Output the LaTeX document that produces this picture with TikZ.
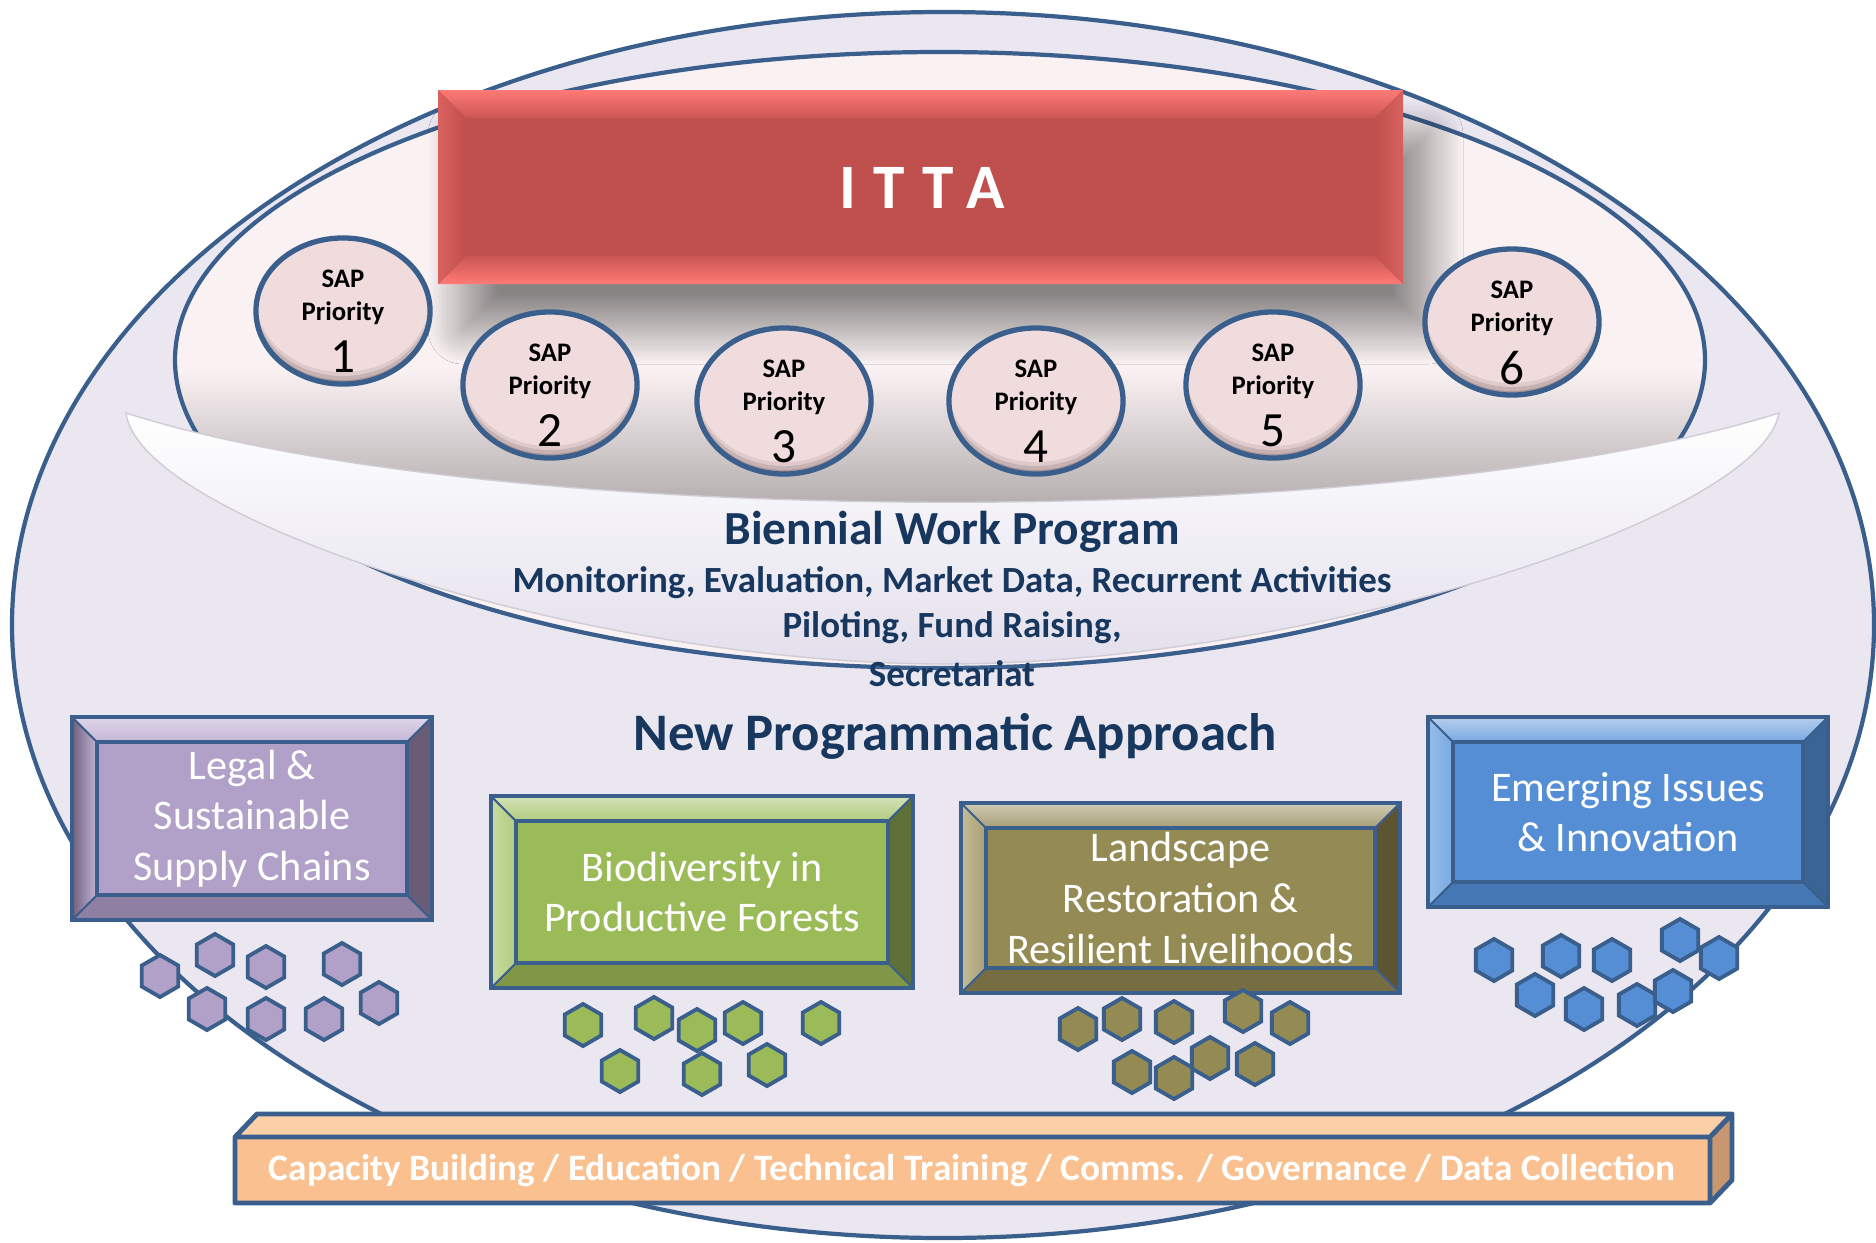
\documentclass[tikz,border=0pt]{standalone}
\usepackage{fontspec}
\setmainfont{Carlito}
\usetikzlibrary{shapes.geometric,calc,shadows.blur}

\definecolor{lineblue}{RGB}{59,95,140}
\definecolor{navy}{RGB}{23,55,94}
\definecolor{outerfill}{RGB}{235,231,241}
\definecolor{innerfill}{RGB}{249,241,242}
\definecolor{innershade}{RGB}{172,166,167}
\definecolor{bowlshade}{RGB}{227,223,236}
\definecolor{ittared}{RGB}{192,80,77}
\definecolor{ittalight}{RGB}{255,122,118}
\definecolor{sapfill}{RGB}{240,220,220}
\definecolor{sapdark}{RGB}{120,100,102}
\definecolor{legalface}{RGB}{177,160,199}
\definecolor{legaltop}{RGB}{196,181,214}
\definecolor{legalbot}{RGB}{143,127,163}
\definecolor{legalleft}{RGB}{110,96,124}
\definecolor{legalright}{RGB}{104,92,118}
\definecolor{bioface}{RGB}{155,187,89}
\definecolor{biotop}{RGB}{177,203,126}
\definecolor{biobot}{RGB}{127,151,71}
\definecolor{bioleft}{RGB}{200,220,160}
\definecolor{bioright}{RGB}{93,113,54}
\definecolor{landface}{RGB}{148,138,84}
\definecolor{landtop}{RGB}{168,159,119}
\definecolor{landbot}{RGB}{119,109,67}
\definecolor{landleft}{RGB}{196,188,150}
\definecolor{landright}{RGB}{92,84,51}
\definecolor{emface}{RGB}{85,142,213}
\definecolor{emtop}{RGB}{122,168,224}
\definecolor{embot}{RGB}{70,119,181}
\definecolor{emleft}{RGB}{150,190,235}
\definecolor{emright}{RGB}{59,100,150}
\definecolor{barfront}{RGB}{250,192,144}
\definecolor{bartop}{RGB}{251,207,168}
\definecolor{barside}{RGB}{200,151,111}

% bevelled programme box: name, x1, y1, x2, y2, colour prefix, text
\newcommand{\progbox}[7]{%
  \pgfmathsetmacro{\innL}{#2+25}\pgfmathsetmacro{\innT}{#3+25}%
  \pgfmathsetmacro{\innR}{#4-25}\pgfmathsetmacro{\innB}{#5-25}%
  \fill[#6face] (#2,#3) rectangle (#4,#5);
  \shade[top color=#6top!55!white,bottom color=#6top] (#2,#3) -- (#4,#3) -- (\innR,\innT) -- (\innL,\innT) -- cycle;
  \shade[left color=#6left,right color=#6top] (#2,#3) -- (\innL,\innT) -- (\innL,\innB) -- (#2,#5) -- cycle;
  \fill[#6right] (#4,#3) -- (\innR,\innT) -- (\innR,\innB) -- (#4,#5) -- cycle;
  \fill[#6bot] (#2,#5) -- (\innL,\innB) -- (\innR,\innB) -- (#4,#5) -- cycle;
  \draw[lineblue,line width=0.6pt] (#2,#3) -- (\innL,\innT) (#4,#3) -- (\innR,\innT)
    (#2,#5) -- (\innL,\innB) (#4,#5) -- (\innR,\innB);
  \draw[boxline] (\innL,\innT) rectangle (\innR,\innB);
  \draw[boxline] (#2,#3) rectangle (#4,#5);
  \node[boxtext] (#1) at ({(#2+#4)/2},{(#3+#5)/2}) {#7};
}

\begin{document}
\begin{tikzpicture}[x=0.01cm,y=-0.01cm]
  \tikzstyle{ring}=[draw=lineblue,line width=1.2pt]
  \tikzstyle{boxline}=[draw=lineblue,line width=1.4pt]
  \tikzstyle{boxtext}=[align=center,text=white,font=\fontsize{12}{14.4}\selectfont]
  \tikzstyle{sap}=[ellipse,draw=lineblue,line width=1.5pt,fill=sapdark!60!sapfill,
    minimum width=1.74cm,minimum height=1.46cm,
    path picture={
      \fill[sapdark!35!sapfill] ($(path picture bounding box.center)+(0,-4)$) ellipse [x radius=87,y radius=73];
      \fill[sapdark!15!sapfill] ($(path picture bounding box.center)+(0,-8)$) ellipse [x radius=87,y radius=73];
      \fill[sapfill] ($(path picture bounding box.center)+(0,-12)$) ellipse [x radius=87,y radius=73];}]
  \tikzstyle{saptext}=[align=center,font=\fontsize{7.6}{9.4}\selectfont\bfseries]
  \tikzstyle{sapnum}=[font=\fontsize{14}{14}\selectfont]
  \tikzstyle{head}=[text=navy,font=\bfseries]
  \tikzstyle{hex}=[regular polygon,regular polygon sides=6,shape border rotate=90,
    draw=lineblue,line width=1.1pt,inner sep=0pt,minimum size=0.42cm]

  \useasboundingbox (0,0) rectangle (1876,1242);

  % outer and inner rings
  \fill[outerfill] (943,625) ellipse [x radius=931,y radius=613];
  \draw[ring] (943,625) ellipse [x radius=931,y radius=613];
  \fill[innerfill] (940,360) ellipse [x radius=765,y radius=308];
  \begin{scope}
    \clip (940,360) ellipse [x radius=765,y radius=308];
    \shade[top color=innerfill,bottom color=innershade] (100,370) rectangle (1800,520);
  \end{scope}
  \draw[ring] (940,360) ellipse [x radius=765,y radius=308];

  % ITTA
  \path[fill=innershade,blur shadow={shadow xshift=0.25cm,shadow yshift=-0.45cm,
    shadow blur radius=0.35cm,shadow blur steps=30,shadow opacity=45}] (438,90) rectangle (1403,284);
  \fill[ittared] (438,90) rectangle (1403,284);
  \shade[top color=ittalight,bottom color=ittared!85!ittalight] (438,90) -- (1403,90) -- (1375,118) -- (466,118) -- cycle;
  \shade[top color=ittared!85!ittalight,bottom color=ittalight] (438,284) -- (466,256) -- (1375,256) -- (1403,284) -- cycle;
  \shade[left color=ittared!60!ittalight,right color=ittared] (438,90) -- (466,118) -- (466,256) -- (438,284) -- cycle;
  \shade[left color=ittared,right color=ittared!60!ittalight] (1403,90) -- (1375,118) -- (1375,256) -- (1403,284) -- cycle;
  \node[text=white,font=\fontsize{18}{18}\selectfont\bfseries\addfontfeature{LetterSpace=27}] (itta) at (922,188) {ITTA};

  % SAP priorities
  \node [sap] (sap1) at (343,311) {};
  \node [sap] (sap2) at (550,385) {};
  \node [sap] (sap3) at (784,401) {};
  \node [sap] (sap4) at (1036,401) {};
  \node [sap] (sap5) at (1273,385) {};
  \node [sap] (sap6) at (1512,322) {};
  \node [saptext] at ($(sap1)+(0,-14)$) {SAP\\Priority};
  \node [saptext] at ($(sap2)+(0,-14)$) {SAP\\Priority};
  \node [saptext] at ($(sap3)+(0,-14)$) {SAP\\Priority};
  \node [saptext] at ($(sap4)+(0,-14)$) {SAP\\Priority};
  \node [saptext] at ($(sap5)+(0,-14)$) {SAP\\Priority};
  \node [saptext] at ($(sap6)+(0,-14)$) {SAP\\Priority};
  \node [sapnum] at ($(sap1)+(0,46)$) {1};
  \node [sapnum] at ($(sap2)+(0,46)$) {2};
  \node [sapnum] at ($(sap3)+(0,46)$) {3};
  \node [sapnum] at ($(sap4)+(0,46)$) {4};
  \node [sapnum] at ($(sap5)+(0,46)$) {5};
  \node [sapnum] at ($(sap6)+(0,46)$) {6};

  % work program bowl
  \path[draw=bowlshade!80!gray,line width=0.4pt,top color=white,bottom color=bowlshade]
    (126,413) .. controls (500,532) and (1400,532) .. (1779,413)
    .. controls (1760,520) and (1300,664) .. (945,664)
    .. controls (590,664) and (140,520) .. (126,413) -- cycle;
  \node [head,font=\fontsize{13.5}{13.5}\selectfont\bfseries] (bwp) at (952,532) {Biennial Work Program};
  \node [head,font=\fontsize{10.5}{10.5}\selectfont\bfseries] (act1) at (952,583) {Monitoring, Evaluation, Market Data, Recurrent Activities};
  \node [head,font=\fontsize{10.5}{10.5}\selectfont\bfseries] (act2) at (952,628) {Piloting, Fund Raising,};
  \node [head,font=\fontsize{10.5}{10.5}\selectfont\bfseries] (act3) at (952,674) {Secretariat};
  \node [head,font=\fontsize{15}{15}\selectfont\bfseries] (npa) at (955,736) {New Programmatic Approach};

  % programme boxes
  \progbox{legal}{72}{717}{432}{920}{legal}{Legal \&\\Sustainable\\Supply Chains}
  \progbox{bio}{491}{796}{913}{988}{bio}{Biodiversity in\\Productive Forests}
  \progbox{land}{961}{803}{1400}{993}{land}{Landscape\\Restoration \&\\Resilient Livelihoods}
  \progbox{emerg}{1428}{717}{1828}{907}{em}{Emerging Issues\\\& Innovation}

  % projects
  \node [hex,fill=legalface] (p1) at (160,976) {};
  \node [hex,fill=legalface] (p2) at (215,955) {};
  \node [hex,fill=legalface] (p3) at (266,967) {};
  \node [hex,fill=legalface] (p4) at (342,964) {};
  \node [hex,fill=legalface] (p5) at (379,1003) {};
  \node [hex,fill=legalface] (p6) at (207,1009) {};
  \node [hex,fill=legalface] (p7) at (266,1019) {};
  \node [hex,fill=legalface] (p8) at (324,1019) {};

  \node [hex,fill=bioface] (g1) at (583,1025) {};
  \node [hex,fill=bioface] (g2) at (654,1018) {};
  \node [hex,fill=bioface] (g3) at (697,1030) {};
  \node [hex,fill=bioface] (g4) at (743,1023) {};
  \node [hex,fill=bioface] (g5) at (821,1023) {};
  \node [hex,fill=bioface] (g6) at (620,1071) {};
  \node [hex,fill=bioface] (g7) at (702,1074) {};
  \node [hex,fill=bioface] (g8) at (767,1065) {};

  \node [hex,fill=landface] (l1) at (1078,1029) {};
  \node [hex,fill=landface] (l2) at (1122,1019) {};
  \node [hex,fill=landface] (l3) at (1174,1022) {};
  \node [hex,fill=landface] (l4) at (1243,1011) {};
  \node [hex,fill=landface] (l5) at (1290,1023) {};
  \node [hex,fill=landface] (l6) at (1132,1072) {};
  \node [hex,fill=landface] (l8) at (1210,1058) {};
  \node [hex,fill=landface] (l9) at (1255,1064) {};
  \node [hex,fill=landface] (l7) at (1174,1078) {};

  \node [hex,fill=emface] (e1) at (1494,960) {};
  \node [hex,fill=emface] (e2) at (1561,956) {};
  \node [hex,fill=emface] (e3) at (1612,960) {};
  \node [hex,fill=emface] (e4) at (1680,940) {};
  \node [hex,fill=emface] (e5) at (1719,958) {};
  \node [hex,fill=emface] (e6) at (1535,995) {};
  \node [hex,fill=emface] (e7) at (1584,1009) {};
  \node [hex,fill=emface] (e8) at (1637,1005) {};
  \node [hex,fill=emface] (e9) at (1673,991) {};

  % capacity building bar
  \fill[bartop] (235,1137) -- (257,1114) -- (1732,1114) -- (1710,1137) -- cycle;
  \fill[barside] (1710,1137) -- (1732,1114) -- (1732,1180) -- (1710,1203) -- cycle;
  \fill[barfront] (235,1137) rectangle (1710,1203);
  \draw[boxline,line join=round] (235,1137) -- (257,1114) -- (1732,1114) -- (1732,1180) -- (1710,1203)
    -- (235,1203) -- cycle (235,1137) -- (1710,1137) -- (1732,1114) (1710,1137) -- (1710,1203);
  \node[text=white,font=\fontsize{10.6}{10.6}\selectfont\bfseries] (cap) at (972,1171)
    {Capacity Building / Education / Technical Training / Comms. / Governance / Data Collection};
\end{tikzpicture}
\end{document}
